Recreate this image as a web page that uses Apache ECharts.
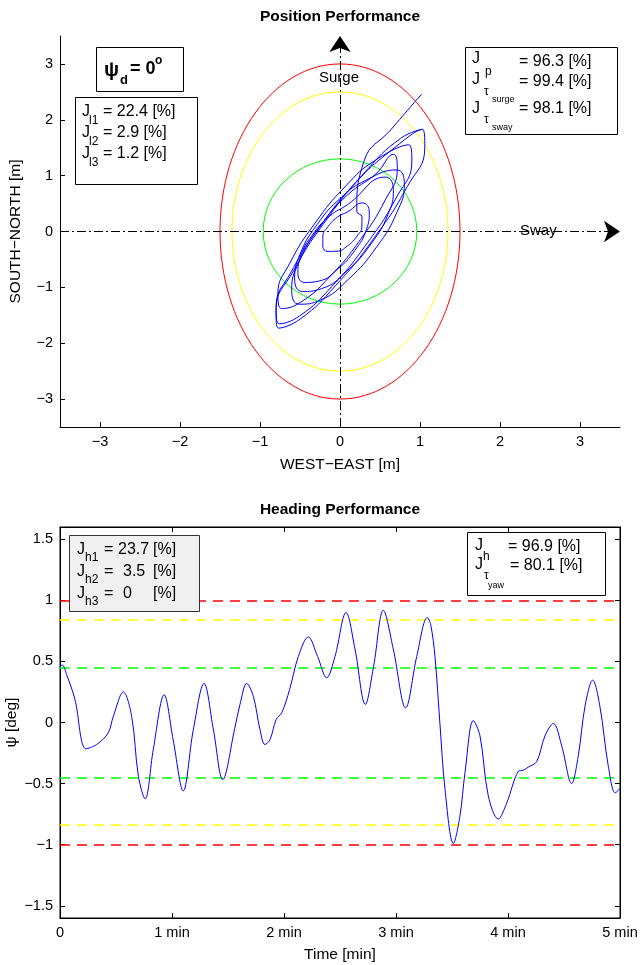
<!DOCTYPE html>
<html><head><meta charset="utf-8">
<script src="https://cdn.jsdelivr.net/npm/echarts@6/dist/echarts.min.js"></script>
<style>html,body{margin:0;padding:0;background:#fff}#c{width:640px;height:965px}</style>
</head><body><div id="c"></div>
<script>
// ---------------- data ----------------
// Position plot: vessel trajectory (EAST, NORTH) in metres
const trajX = [1.02,0.64,0.30,
  0.21,0.275,0.274,0.208,0.094,-0.037,-0.15,-0.215,-0.214,-0.148,-0.034,0.097,
  0.28,0.366,0.331,0.187,-0.029,-0.258,-0.44,-0.526,-0.491,-0.347,-0.131,0.098,
  0.568,0.667,0.602,0.388,0.084,-0.229,-0.468,-0.567,-0.502,-0.288,0.016,0.329,
  0.708,0.804,0.712,0.456,0.104,-0.248,-0.508,-0.604,-0.512,-0.256,0.096,0.448,
  0.668,0.716,0.566,0.255,-0.132,-0.492,-0.728,-0.776,-0.626,-0.315,0.072,0.432,
  0.86,0.898,0.71,0.344,-0.10,-0.504,-0.76,-0.798,-0.61,-0.244,0.20,0.604,
  1.03,1.06,0.842,0.433,-0.058,-0.498,-0.77,-0.80,-0.582,-0.173,0.318,0.758,1.03];
const trajY = [2.46,1.83,1.26,
  0.36,0.263,0.10,-0.09,-0.256,-0.353,-0.356,-0.263,-0.10,0.09,0.256,0.353,
  0.512,0.349,0.039,-0.335,-0.673,-0.885,-0.912,-0.749,-0.439,-0.065,0.273,0.485,
  0.974,0.75,0.314,-0.221,-0.71,-1.022,-1.074,-0.85,-0.414,0.121,0.61,0.922,
  1.102,0.85,0.345,-0.28,-0.857,-1.23,-1.302,-1.05,-0.545,0.08,0.657,1.03,
  1.38,1.123,0.565,-0.144,-0.815,-1.267,-1.38,-1.123,-0.565,0.144,0.815,1.267,
  1.552,1.263,0.622,-0.199,-0.98,-1.511,-1.652,-1.363,-0.722,0.099,0.88,1.411,
  1.83,1.514,0.807,-0.103,-0.973,-1.568,-1.73,-1.414,-0.707,0.203,1.073,1.668,1.83];
// position limit ellipses (semi-axis EAST, semi-axis NORTH)
const limitSemiX = [1.5, 1.35, 0.96];
const limitSemiY = [3.0, 2.5, 1.3];
const limitColors = ['#ff0000', '#ffff00', '#00ff00'];
const posExtent = [-3.5, 3.5];
const posTicks = [-3, -2, -1, 0, 1, 2, 3];
const posIndexNames = ['l1', 'l2', 'l3'];
const posIndexValues = ['22.4', '2.9', '1.2'];
const posPerf = ['96.3', '99.4', '98.1'];

// Heading plot
const timeMin = [0,0.02,0.06,0.133,0.232,0.327,0.43,0.476,0.565,0.64,0.70,0.76,0.833,0.93,1.01,1.10,1.19,1.286,1.37,1.453,
  1.56,1.607,1.667,1.726,1.786,1.83,1.875,1.93,1.98,2.05,2.128,2.217,2.30,2.381,2.455,2.554,2.634,2.726,2.80,2.887,2.976,
  3.086,3.185,3.28,3.31,3.348,3.39,3.438,3.512,3.57,3.616,3.69,3.75,3.824,3.913,3.988,4.092,4.137,4.18,4.256,4.33,4.405,
  4.479,4.568,4.628,4.688,4.756,4.82,4.896,4.958,5.0];
const headingDeg = [0.46,0.47,0.39,0.19,-0.215,-0.18,-0.085,0.05,0.25,0.05,-0.44,-0.625,-0.22,0.227,-0.14,-0.56,-0.06,0.32,-0.06,-0.467,
  -0.05,0.148,0.32,0.215,-0.06,-0.18,-0.14,0.025,0.08,0.27,0.54,0.70,0.54,0.366,0.54,0.90,0.60,0.148,0.46,0.918,0.60,
  0.12,0.54,0.86,0.80,0.54,0.02,-0.55,-0.99,-0.77,-0.41,0.016,-0.11,-0.60,-0.79,-0.66,-0.40,-0.39,-0.366,-0.32,-0.11,-0.008,
  -0.19,-0.50,-0.27,0.135,0.347,0.135,-0.36,-0.576,-0.54];
const headingLimits = [1.0, 0.84, 0.45];
const headingLimitColors = ['#ff0000', '#ffff00', '#00ff00'];
const headingExtent = [-1.6, 1.6];
const headingTicks = [-1.5, -1, -0.5, 0, 0.5, 1, 1.5];
const timeTicks = [0, 1, 2, 3, 4, 5];
const headIndexNames = ['h1', 'h2', 'h3'];
const headIndexValues = ['23.7', '3.5', '0'];
const headPerf = ['96.9', '80.1'];

// ---------------- chart ----------------
const FONT = '"Liberation Sans", Arial, Helvetica, sans-serif';
const minus = v => (v < 0 ? '\u2212' : '') + Math.abs(v);
const chart = echarts.init(document.getElementById('c'), null, {renderer: 'canvas'});

function T(x, y, text, size, bold, align) {
  return {type: 'text', x: x, y: y, z: 100, silent: true,
    style: {text: text, fontSize: size, fontFamily: FONT, fontWeight: bold ? 'bold' : 'normal', fill: '#000',
      align: align || 'left', textAlign: align || 'left', verticalAlign: 'middle', textVerticalAlign: 'middle'}};
}
function R(x, y, w, h, fill, stroke) {
  return {type: 'rect', z: 99, silent: true, shape: {x: x + 0.5, y: y + 0.5, width: w, height: h},
    style: {fill: fill, stroke: stroke, lineWidth: 1}};
}

const axisCommon = {
  axisLine: {onZero: false, lineStyle: {color: '#000', width: 1}},
  splitLine: {show: false},
  nameMoveOverlap: false,
  nameTextStyle: {color: '#000', fontSize: 15.5, fontFamily: FONT}
};
function tickAx(vals, fmt, show) {
  return {
    axisTick: {inside: true, length: 5, customValues: vals, lineStyle: {color: '#000'}},
    axisLabel: {show: show, customValues: vals, formatter: fmt, color: '#000', fontSize: 14.5, fontFamily: FONT, margin: 7}
  };
}

const graphics = [];
// titles
graphics.push(T(340, 17, 'Position Performance', 15.5, true, 'center'));
graphics.push(T(340, 510, 'Heading Performance', 15.5, true, 'center'));
// Surge / Sway annotations
graphics.push(T(339, 78, 'Surge', 15, false, 'center'));
graphics.push(T(520, 231, 'Sway', 15, false, 'left'));
// psi_d box
graphics.push(R(96, 47, 87, 44, '#fff', '#000'));
graphics.push(T(104, 70, '\u03c8', 20, true));
graphics.push(T(120, 80, 'd', 13, true));
graphics.push(T(130, 69, '= 0', 18, true));
graphics.push(T(155, 61, 'o', 12, true));
// J_l box
graphics.push(R(75, 97, 122, 87, '#fff', '#000'));
posIndexNames.forEach((n, i) => {
  const cy = 112 + i * 21;
  graphics.push(T(82, cy, 'J', 16));
  graphics.push(T(89, cy + 9, n, 12));
  graphics.push(T(103, cy, '= ' + posIndexValues[i] + ' [%]', 16));
});
// J_p box
graphics.push(R(465, 47, 152, 87, '#fff', '#000'));
graphics.push(T(472, 59, 'J', 16));
graphics.push(T(485, 72, 'p', 12));
graphics.push(T(519, 62, '= ' + posPerf[0] + ' [%]', 16));
graphics.push(T(472, 80, 'J', 16));
graphics.push(T(484, 92, '\u03c4', 12));
graphics.push(T(492, 100, 'surge', 9));
graphics.push(T(519, 82, '= ' + posPerf[1] + ' [%]', 16));
graphics.push(T(472, 109, 'J', 16));
graphics.push(T(484, 120, '\u03c4', 12));
graphics.push(T(492, 128, 'sway', 9));
graphics.push(T(519, 109, '= ' + posPerf[2] + ' [%]', 16));
// J_h box
graphics.push(R(69, 535, 130, 76, '#f0f0f0', '#333'));
headIndexNames.forEach((n, i) => {
  const cy = 550 + i * 22;
  graphics.push(T(77, cy, 'J', 16));
  graphics.push(T(85, cy + 8, n, 12));
  graphics.push(T(104, cy, '=', 16));
  graphics.push(T(i === 0 ? 118 : 123, cy, headIndexValues[i], 16));
  graphics.push(T(153, cy, '[%]', 16));
});
// J_h / J_tau_yaw box
graphics.push(R(467, 532, 138, 63, '#fff', '#000'));
graphics.push(T(475, 546, 'J', 16));
graphics.push(T(483, 557, 'h', 12));
graphics.push(T(508, 547, '= ' + headPerf[0] + ' [%]', 16));
graphics.push(T(475, 565, 'J', 16));
graphics.push(T(484, 576, '\u03c4', 12));
graphics.push(T(488, 586, 'yaw', 9));
graphics.push(T(510, 566, '= ' + headPerf[1] + ' [%]', 16));

const option = {
  animation: false,
  backgroundColor: '#fff',
  textStyle: {fontFamily: FONT},
  grid: [
    {left: 60, top: 36, width: 560, height: 391, show: false, containLabel: false, outerBoundsMode: 'none'},
    {left: 60, top: 527, width: 560, height: 391, show: true, borderColor: '#000', borderWidth: 1,
      backgroundColor: 'transparent', containLabel: false, outerBoundsMode: 'none'}
  ],
  xAxis: [
    Object.assign({gridIndex: 0, type: 'value', min: posExtent[0], max: posExtent[1], name: 'WEST\u2212EAST [m]',
      nameLocation: 'middle', nameGap: 30}, axisCommon, tickAx(posTicks, minus, true)),
    Object.assign({gridIndex: 1, type: 'value', min: 0, max: 5, name: 'Time [min]', nameLocation: 'middle', nameGap: 29},
      axisCommon, tickAx(timeTicks, v => v === 0 ? '0' : v + ' min', true)),
    Object.assign({gridIndex: 1, type: 'value', min: 0, max: 5, position: 'top'}, axisCommon, tickAx(timeTicks, null, false))
  ],
  yAxis: [
    Object.assign({gridIndex: 0, type: 'value', min: posExtent[0], max: posExtent[1], name: 'SOUTH\u2212NORTH [m]',
      nameLocation: 'middle', nameGap: 36}, axisCommon, tickAx(posTicks, minus, true)),
    Object.assign({gridIndex: 1, type: 'value', min: headingExtent[0], max: headingExtent[1], name: '\u03c8 [deg]',
      nameLocation: 'middle', nameGap: 40}, axisCommon, tickAx(headingTicks, minus, true)),
    Object.assign({gridIndex: 1, type: 'value', min: headingExtent[0], max: headingExtent[1], position: 'right'},
      axisCommon, tickAx(headingTicks, null, false))
  ],
  graphic: {elements: graphics},
  series: [
    {
      type: 'custom', xAxisIndex: 0, yAxisIndex: 0, silent: true, z: 2,
      data: limitSemiX.map((a, i) => [a, limitSemiY[i]]),
      renderItem: function (params, api) {
        const c = api.coord([0, 0]);
        const e = api.coord([api.value(0), api.value(1)]);
        return {type: 'ellipse', shape: {cx: c[0], cy: c[1], rx: e[0] - c[0], ry: c[1] - e[1]},
          style: {fill: 'transparent', stroke: limitColors[params.dataIndex], lineWidth: 1}};
      }
    },
    {
      type: 'lines', coordinateSystem: 'cartesian2d', xAxisIndex: 0, yAxisIndex: 0, silent: true, z: 3,
      symbol: ['none', 'arrow'], symbolSize: [12, 16],
      lineStyle: {color: '#000', width: 1, type: [9, 3, 2, 3], opacity: 1},
      data: [
        {coords: [[posExtent[0], 0], [posExtent[1], 0]]},
        {coords: [[0, posExtent[0]], [0, posExtent[1]]]}
      ]
    },
    {
      type: 'line', xAxisIndex: 0, yAxisIndex: 0, silent: true, z: 4,
      data: trajX.map((x, i) => [x, trajY[i]]),
      showSymbol: false, smooth: 0.5,
      lineStyle: {color: '#0000ff', width: 1}
    },
    {
      type: 'line', xAxisIndex: 1, yAxisIndex: 1, silent: true, z: 4,
      data: timeMin.map((t, i) => [t, headingDeg[i]]),
      showSymbol: false, smooth: 0.35,
      lineStyle: {color: '#0000ff', width: 1},
      markLine: {
        silent: true, symbol: 'none', label: {show: false}, z: 3,
        data: headingLimits.flatMap((v, i) => [
          {yAxis: v, lineStyle: {color: headingLimitColors[i], type: [10, 7], width: 1.5}},
          {yAxis: -v, lineStyle: {color: headingLimitColors[i], type: [10, 7], width: 1.5}}
        ])
      }
    }
  ]
};
chart.setOption(option);
</script>
</body></html>
